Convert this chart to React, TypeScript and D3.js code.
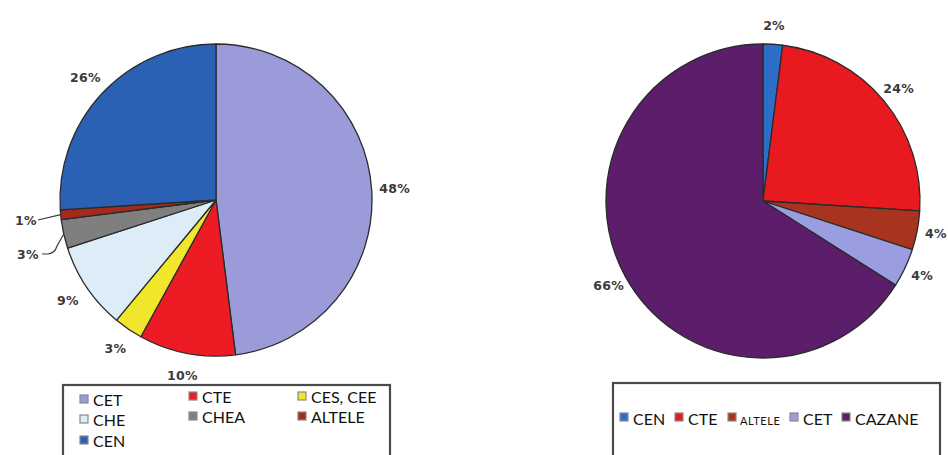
import React from "react";
import * as d3 from "d3";

// ---- data ----
const leftCategories = ["CET", "CTE", "CES, CEE", "CHE", "CHEA", "ALTELE", "CEN"];
const leftValues = [48, 10, 3, 9, 3, 1, 26];
const leftColors = ["#9b9bd9", "#ec1b24", "#f2e62c", "#dcedf7", "#7f7f7f", "#a42b1b", "#2b61b4"];

const rightCategories = ["CEN", "CTE", "ALTELE", "CET", "CAZANE"];
const rightValues = [2, 24, 4, 4, 66];
const rightColors = ["#2e6dc8", "#e8191f", "#a8341f", "#9a9ee0", "#5c1d6b"];

const W = 948;
const H = 455;

type PieProps = {
  cx: number;
  cy: number;
  r: number;
  labelGap: number;
  values: number[];
  colors: string[];
  leaders?: Record<number, { lx: number; ly: number; curve: boolean }>;
};

function Pie({ cx, cy, r, labelGap, values, colors, leaders = {} }: PieProps) {
  const pie = d3.pie<number>().sort(null).value((d) => d)(values);
  const arc = d3.arc<d3.PieArcDatum<number>>().innerRadius(0).outerRadius(r);
  const total = d3.sum(values);
  const labelR = r + labelGap;
  return (
    <g transform={`translate(${cx},${cy})`}>
      {pie.map((p, i) => (
        <path key={i} d={arc(p) || ""} fill={colors[i]} stroke="#2b2b2b" strokeWidth={1.3} strokeLinejoin="round" />
      ))}
      {pie.map((p, i) => {
        const mid = (p.startAngle + p.endAngle) / 2;
        const txt = `${Math.round((p.value / total) * 100)}%`;
        const ld = leaders[i];
        if (ld) {
          const ex = r * Math.sin(mid);
          const ey = -r * Math.cos(mid);
          const lx = ld.lx - cx;
          const ly = ld.ly - cy;
          const path = ld.curve
            ? `M${lx + 14},${ly} L${lx + 20},${ly} Q${lx + 27},${ly - 1} ${lx + 29},${ly - 8} L${ex},${ey}`
            : `M${lx + 12},${ly} L${ex},${ey}`;
          return (
            <g key={"l" + i}>
              <path d={path} fill="none" stroke="#3a3a3a" strokeWidth={1.2} />
              <text x={lx} y={ly} textAnchor="middle" dominantBaseline="central" fontFamily="DejaVu Sans" fontWeight="bold" fontSize={12.5} fill="#3a3a3a" letterSpacing={0.3}>
                {txt}
              </text>
            </g>
          );
        }
        const x = labelR * Math.sin(mid);
        const y = -labelR * Math.cos(mid);
        return (
          <text key={"t" + i} x={x} y={y} textAnchor="middle" dominantBaseline="central" fontFamily="DejaVu Sans" fontWeight="bold" fontSize={12.5} fill="#3a3a3a" letterSpacing={0.3}>
            {txt}
          </text>
        );
      })}
    </g>
  );
}

export default function App() {
  const legendFont = "Lato, 'Open Sans', sans-serif";
  const leftCols = [80, 189, 298];
  const leftRows = [406, 426, 447];
  const rightPositions = [620, 675, 728, 790, 842];
  return (
    <svg width={W} height={H} style={{ position: "absolute", left: 0, top: 0, background: "#fff" }}>
      <rect x={0} y={0} width={W} height={H} fill="#ffffff" />
      <Pie
        cx={216}
        cy={200}
        r={156}
        labelGap={23}
        values={leftValues}
        colors={leftColors}
        leaders={{ 4: { lx: 28, ly: 254, curve: true }, 5: { lx: 26, ly: 220, curve: false } }}
      />
      <Pie cx={763} cy={201} r={157} labelGap={19} values={rightValues} colors={rightColors} />

      {/* left legend */}
      <rect x={63} y={385} width={327} height={90} fill="#fff" stroke="#4a4a4a" strokeWidth={2.2} />
      {leftCategories.map((c, i) => {
        const col = i % 3;
        const row = Math.floor(i / 3);
        const x = leftCols[col];
        const y = leftRows[row] - (col > 0 ? 3 : 0);
        return (
          <g key={c}>
            <rect x={x} y={y - 11} width={8} height={8} fill={leftColors[i]} stroke="#8a8a8a" strokeWidth={1.2} />
            <text x={x + 13} y={y} fontFamily={legendFont} fontSize={16} fill="#111">
              {c}
            </text>
          </g>
        );
      })}

      {/* right legend */}
      <rect x={613} y={383} width={327} height={92} fill="#fff" stroke="#4a4a4a" strokeWidth={2.2} />
      {rightCategories.map((c, i) => {
        const x = rightPositions[i];
        const small = c === "ALTELE";
        return (
          <g key={c}>
            <rect x={x} y={413} width={8} height={8} fill={rightColors[i]} stroke="#8a8a8a" strokeWidth={1.2} />
            <text
              x={x + (small ? 12 : 13)}
              y={425}
              fontFamily={legendFont}
              fontSize={small ? 11 : 16}
              letterSpacing={small ? 0.6 : 0}
              fill="#111"
            >
              {c}
            </text>
          </g>
        );
      })}
    </svg>
  );
}
